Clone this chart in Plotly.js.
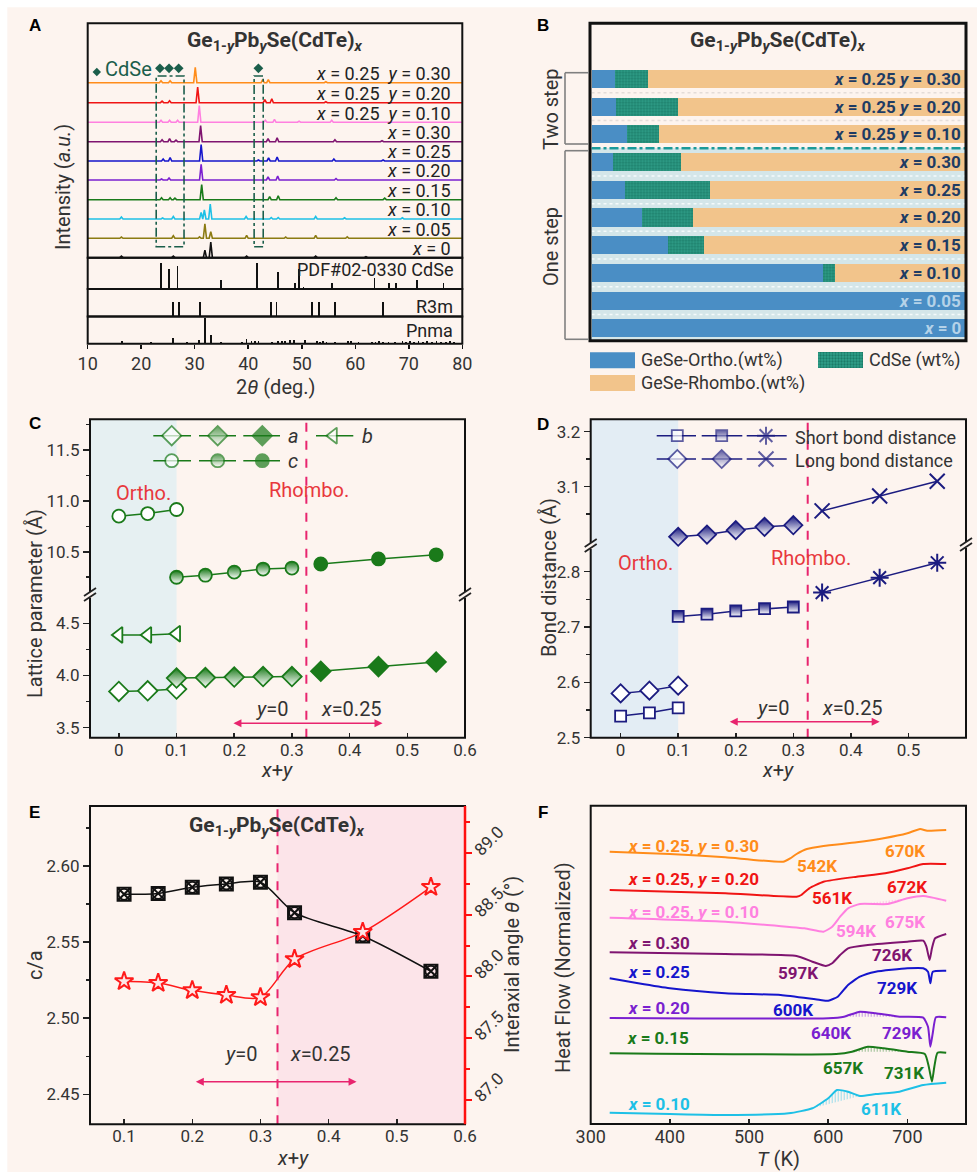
<!DOCTYPE html>
<html><head><meta charset="utf-8">
<script src="https://cdn.plot.ly/plotly-3.0.1.min.js"></script>
<style>html,body{margin:0;padding:0;background:#fff;}#chart{width:977px;height:1172px;}</style>
</head><body><div id="chart"></div>
<script>
// ================= DATA =================
// Panel A : XRD patterns (peak position 2theta, relative height)
const XRD_LABELS = ['<i>x</i> = 0','<i>x</i> = 0.05','<i>x</i> = 0.10','<i>x</i> = 0.15','<i>x</i> = 0.20','<i>x</i> = 0.25','<i>x</i> = 0.30',
  '<i>x</i> = 0.25\u00a0\u00a0<i>y</i> = 0.10','<i>x</i> = 0.25\u00a0\u00a0<i>y</i> = 0.20','<i>x</i> = 0.25\u00a0\u00a0<i>y</i> = 0.30'];
const XRD_COLORS = ['#111111','#8c7b12','#1ec0e6','#1a7a1a','#7a1fd0','#1515cc','#7f1470','#ff80e0','#f01414','#ff8c1a'];
const XRD_OFFSETS = [0,19.4,38.7,58,77.7,96.7,116,135.4,155,175];
const XRD_PEAKS = [
  [[16.3,1.5],[26.0,1.5],[31.9,7.5],[33.0,15.5],[39.7,1.5],[52.6,1.5],[62.0,1]],
  [[16.3,1.2],[26.0,2.5],[30.9,1.5],[31.9,14.5],[33.0,6.5],[39.7,3],[47.0,1.2],[52.6,3],[58.5,1.5]],
  [[16.3,2],[24.0,1],[26.0,2.5],[31.2,6.5],[31.8,9],[32.9,15],[39.6,2.5],[44.3,1.5],[45.6,1.5],[52.6,2.5],[58.0,1.2],[68.8,1.2]],
  [[23.8,2],[25.4,2],[26.3,1.5],[31.3,15],[44.0,3],[45.6,4],[56.4,2],[65.5,1.5]],
  [[23.8,1],[25.2,2],[31.2,15.7],[43.7,3],[45.5,4],[56.4,1.5]],
  [[24.1,2],[25.4,3.5],[31.2,16.3],[41.9,1],[43.8,3],[45.4,4],[56.0,2],[65.2,1]],
  [[23.9,2],[25.3,3],[26.5,1.5],[31.1,16],[43.7,3],[45.4,4],[56.2,2],[65.0,1]],
  [[23.7,2],[25.3,2],[26.8,2],[30.85,16.7],[43.2,2],[44.9,3],[49.5,1],[55.6,2]],
  [[23.9,1.5],[25.3,2],[30.55,15.7],[43.1,3],[44.4,4],[54.5,1]],
  [[23.7,2],[25.4,2],[30.1,15.3],[42.7,3],[43.75,3],[54.5,1]]
];
const CDSE_POS = [23.7,25.2,26.8,34.9,41.6,45.5,48.7,49.5,50.3,55.6,63.6,66.3,67.6,71.6,76.5];
const CDSE_INT = [25.7,20,22.7,9,25.7,17.3,6,20.3,2,6,11,6,6,9,6];
const R3M_POS = [25.9,27.1,31.0,44.2,45.3,51.9,53.2,56.2,65.2];
const R3M_INT = [14.5,14.5,14.5,14.5,14.5,14.5,14.5,14.5,14.5];
const PNMA_POS = [16.4,21.8,26.0,28.5,30.8,31.9,33.0,34.9,38.8,39.7,40.6,41.2,41.9,44.4,45.6,46.3,46.9,47.8,48.6,50.6,52.8,53.4,54.0,54.6,56.2,58.6,59.2,60.6,63.1,63.8,64.5,65.2,66.2,67.4,68.8,69.5,70.2,71.0,71.8,72.6,73.4,74.3,75.2,76.0,76.9,77.7,78.5];
const PNMA_INT = [3,2,6,2,4,26,9,2,2,5,3,3,3,2,3,3,3,4,4,4,3,2,3,2,2,3,3,2,2,2,3,2,2,2,3,2,3,2,3,2,3,2,3,2,2,3,2];
const CDSE_MARK_POS = [23.5,25.2,27.0,41.9];

// Panel B : phase fractions (wt%)
const PHASE_ROWS = ['x=0.25 y=0.30','x=0.25 y=0.20','x=0.25 y=0.10','x=0.30','x=0.25','x=0.20','x=0.15','x=0.10','x=0.05','x=0'];
const PHASE_LABELS = ['<i>x</i> = 0.25 <i>y</i> = 0.30','<i>x</i> = 0.25 <i>y</i> = 0.20','<i>x</i> = 0.25 <i>y</i> = 0.10','<i>x</i> = 0.30','<i>x</i> = 0.25','<i>x</i> = 0.20','<i>x</i> = 0.15','<i>x</i> = 0.10','<i>x</i> = 0.05','<i>x</i> = 0'];
const ORTHO_WT  = [6.2,6.5,9.4,5.8,9.1,13.5,20.5,62.1,100,100];
const CDSE_WT   = [8.9,16.7,8.6,18.2,22.5,13.8,9.5,3.2,0,0];
const RHOMBO_WT = [84.9,76.8,82.0,76.0,68.4,72.7,70.0,34.7,0,0];

// Panel C : lattice parameters
const XC_ORTHO = [0,0.05,0.1], XC_Y0 = [0.1,0.15,0.2,0.25,0.3], XC_X25 = [0.35,0.45,0.55];
const A_ORTHO = [3.847,3.853,3.87], A_Y0 = [3.975,3.98,3.985,3.99,3.99], A_X25 = [4.04,4.085,4.13];
const B_ORTHO = [4.388,4.388,4.40];
const C_ORTHO = [10.85,10.875,10.915], C_Y0 = [10.25,10.27,10.30,10.33,10.34], C_X25 = [10.38,10.43,10.47];

// Panel D : bond distances
const XD_ORTHO = [0,0.05,0.1], XD_Y0 = [0.1,0.15,0.2,0.25,0.3], XD_X25 = [0.35,0.45,0.55];
const SHORT_ORTHO = [2.539,2.545,2.554], SHORT_Y0 = [2.719,2.723,2.729,2.733,2.736], SHORT_X25 = [2.762,2.789,2.816];
const LONG_ORTHO = [2.580,2.585,2.594], LONG_Y0 = [3.009,3.013,3.021,3.027,3.030], LONG_X25 = [3.056,3.083,3.110];

// Panel E : c/a and interaxial angle
const XE = [0.1,0.15,0.2,0.25,0.3,0.35,0.45,0.55];
const C_OVER_A = [2.5814,2.5820,2.5860,2.5882,2.5893,2.5693,2.5540,2.5308];
const ANGLE = [87.96,87.946,87.887,87.849,87.830,88.14,88.36,88.725];
const PHASE_BOUNDARY = 0.325;

// Panel F : DSC curves (T in K, heat flow normalized / offset)
const DSC_NAMES = ['x=0.10','x=0.15','x=0.20','x=0.25','x=0.30','x=0.25,y=0.10','x=0.25,y=0.20','x=0.25,y=0.30'];
const DSC_COLORS = ['#1ec0e6','#1a7a1a','#7a1fd0','#1515cc','#7f1470','#ff80e0','#f01414','#ff8c1a'];
const DSC_T = [
  [324,400,470,550,580,600,611,625,640,660,690,720,749],
  [324,610,630,650,670,700,722,727,731,734,738,749],
  [324,600,620,640,660,690,720,726,729,732,736,749],
  [324,360,400,470,540,590,600,612,625,640,660,700,720,726,729,732,749],
  [324,470,560,580,597,605,615,625,650,700,720,724,728,731,735,749],
  [324,470,570,594,605,615,625,640,675,700,720,749],
  [324,470,560,566,576,594,636,672,700,720,749],
  [324,400,470,543,552,560,573,594,636,670,700,716,725,749]
];
const DSC_HF = [
  [11.3,10,9,10.7,15.7,25.7,34,32.3,28,30,32.3,39,41.3],
  [70.7,70,72.3,77.3,75.7,72.3,70,57.3,42.3,57.3,71.3,71.3],
  [106,105.7,107.3,112.3,110.7,107.3,106.3,97.3,77.3,90.7,106.7,106.7],
  [145.7,140.7,135.7,130.7,129,124,123.3,127.3,139,147.3,152.3,155.7,155.7,152.3,140.7,152.3,153.3],
  [171.7,170,168,162.3,158,160.7,169,175.7,179,182.3,183.3,177.3,164,175.7,185.7,190],
  [206.3,202.3,195.7,192.3,197.3,207.3,215.7,220,220,225.7,228,223.3],
  [234,230.7,227.3,229,235.7,242.3,247.3,250.7,255.7,260,260],
  [272.3,270,266.7,262.3,265.7,270,275,278,281.7,285.7,290.7,295,293.3,294]
];
// hatched transition areas: [curve index, T start, T end]
const DSC_HATCH = [[0,580,640],[1,630,700],[2,620,690],[5,640,700],[7,636,700]];

// ================= DRAWING =================
const W=977,H=1172;
const px=v=>v/W, py=v=>1-v/H;
const BG='#fdf4ef';
const FONT='Roboto, "Noto Sans", sans-serif';
const TXT='#2b2b2b';
const traces=[], shapes=[], annotations=[];
function F(size,color,extra){return Object.assign({family:FONT,size:size,color:color||TXT},extra||{});}
function ann(x,y,text,o){annotations.push(Object.assign({xref:'paper',yref:'paper',x:px(x),y:py(y),text:text,showarrow:false,font:F(17),xanchor:'center',yanchor:'middle'},o||{}));}
function rect(x0,y0,x1,y1,o){shapes.push(Object.assign({type:'rect',xref:'paper',yref:'paper',x0:px(x0),x1:px(x1),y0:py(y0),y1:py(y1),line:{width:0}},o||{}));}
function seg(x0,y0,x1,y1,o){shapes.push(Object.assign({type:'line',xref:'paper',yref:'paper',x0:px(x0),x1:px(x1),y0:py(y0),y1:py(y1)},o||{}));}
const TITLE='<b>Ge<sub>1-<i>y</i></sub>Pb<sub><i>y</i></sub>Se(CdTe)<sub><i>x</i></sub></b>';
const tickF=F(17,'#333');
const TTL=20;

// page edge strips
rect(0,0,977,7.3,{fillcolor:'#ffffff',layer:'below'});
rect(0,0,7.3,1172,{fillcolor:'#ffffff',layer:'below'});

const layout={width:W,height:H,margin:{l:0,r:0,t:0,b:0},paper_bgcolor:BG,plot_bgcolor:'rgba(0,0,0,0)',
  showlegend:false,barmode:'stack',font:{family:FONT,color:TXT}};

// ---------- Panel A ----------
const AX=[px(87.7),px(462.3)];
layout.xaxis={domain:AX,range:[10,80],anchor:'y',visible:false};
layout.yaxis={domain:[py(257.7),py(23.3)],range:[0,234.4],anchor:'x',visible:false};
layout.xaxis2={domain:AX,range:[10,80],anchor:'y2',visible:false};
layout.yaxis2={domain:[py(289),py(257.7)],range:[0,31.3],anchor:'x2',visible:false};
layout.xaxis3={domain:AX,range:[10,80],anchor:'y3',visible:false};
layout.yaxis3={domain:[py(316.5),py(289)],range:[0,27.5],anchor:'x3',visible:false};
layout.xaxis4={domain:AX,range:[10,80],anchor:'y4',showline:false,showgrid:false,zeroline:false,
  tickvals:[10,20,30,40,50,60,70,80],ticks:'outside',ticklen:4,tickwidth:1.5,tickcolor:'#111',tickfont:F(18,'#333')};
layout.yaxis4={domain:[py(343.7),py(316.5)],range:[0,27.2],anchor:'x4',visible:false};

XRD_PEAKS.forEach((peaks,i)=>{
  const xs=[10], ys=[XRD_OFFSETS[i]];
  peaks.slice().sort((a,b)=>a[0]-b[0]).forEach(([p,h])=>{xs.push(p-0.3,p,p+0.3);ys.push(XRD_OFFSETS[i],XRD_OFFSETS[i]+h,XRD_OFFSETS[i]);});
  xs.push(80); ys.push(XRD_OFFSETS[i]);
  traces.push({type:'scatter',mode:'lines',x:xs,y:ys,xaxis:'x',yaxis:'y',line:{color:XRD_COLORS[i],width:1.6},hoverinfo:'skip'});
  annotations.push({xref:'x',yref:'y',x:78.3,y:XRD_OFFSETS[i]+9,text:XRD_LABELS[i],showarrow:false,xanchor:'right',yanchor:'middle',font:F(18,'#222')});
});
traces.push({type:'bar',x:CDSE_POS,y:CDSE_INT,width:0.32,xaxis:'x2',yaxis:'y2',marker:{color:'#111'}});
traces.push({type:'bar',x:R3M_POS,y:R3M_INT,width:0.32,xaxis:'x3',yaxis:'y3',marker:{color:'#111'}});
traces.push({type:'bar',x:PNMA_POS,y:PNMA_INT,width:0.32,xaxis:'x4',yaxis:'y4',marker:{color:'#111'}});
traces.push({type:'scatter',mode:'markers',x:CDSE_MARK_POS,y:CDSE_MARK_POS.map(()=>189.4),xaxis:'x',yaxis:'y',
  marker:{symbol:'diamond',size:7.5,color:'#1b5e4b'},cliponaxis:false});
traces.push({type:'scatter',mode:'markers',x:[11.7],y:[185.7],xaxis:'x',yaxis:'y',marker:{symbol:'diamond',size:6.5,color:'#1b5e4b'},cliponaxis:false});
ann(128,68.5,'CdSe',{font:F(20,'#1b5e4b')});
[[22.8,28.0],[41.1,42.8]].forEach(b=>shapes.push({type:'rect',xref:'x',yref:'y',x0:b[0],x1:b[1],y0:11,y1:181.7,line:{color:'#1b5e4b',width:1.6,dash:'dashdot'}}));
[[23.3,257.7],[257.7,289],[289,316.5],[316.5,343.7]].forEach(r=>rect(87.7,r[0],462.3,r[1],{line:{color:'#111',width:2}}));
ann(455,269,'PDF#02-0330 CdSe',{xanchor:'right',font:F(18,'#222')});
ann(455,306.5,'R3m',{xanchor:'right',font:F(18,'#222')});
ann(455,330.5,'Pnma',{xanchor:'right',font:F(18,'#222')});
ann(275,42,TITLE,{font:F(21,'#333')});
ann(63,187,'Intensity (<i>a.u.</i>)',{textangle:-90,font:F(TTL,'#333')});
ann(275,387,'2<i>θ</i> (deg.)',{font:F(TTL,'#333')});

// ---------- Panel B ----------
layout.xaxis5={domain:[px(591.5),px(965)],range:[0,100],anchor:'y5',visible:false};
layout.yaxis5={domain:[py(340.7),py(23.3)],type:'category',categoryorder:'array',categoryarray:PHASE_ROWS,range:[9.448,-2.011],anchor:'x5',visible:false};
rect(591,148,965,340.7,{fillcolor:'#d4e6e9',layer:'below'});
for(let i=0;i<PHASE_ROWS.length-1;i++){
  if(i===2) continue;
  shapes.push({type:'line',xref:'x5',yref:'y5',x0:0,x1:100,y0:i+0.5,y1:i+0.5,layer:'below',line:{color:i<2?'#e4dcd8':'#f4fafb',width:1.5,dash:'dot'}});
}
traces.push({type:'bar',orientation:'h',y:PHASE_ROWS,x:ORTHO_WT,width:0.65,xaxis:'x5',yaxis:'y5',marker:{color:'#4a8ec5'}});
traces.push({type:'bar',orientation:'h',y:PHASE_ROWS,x:CDSE_WT,width:0.65,xaxis:'x5',yaxis:'y5',
  marker:{color:'#2fa08a',pattern:{shape:'.',fillmode:'replace',bgcolor:'#2fa08a',fgcolor:'#1c7b68',size:3,solidity:0.45}}});
traces.push({type:'bar',orientation:'h',y:PHASE_ROWS,x:RHOMBO_WT,width:0.65,xaxis:'x5',yaxis:'y5',marker:{color:'#f2c48b'}});
shapes.push({type:'line',xref:'x5',yref:'y5',x0:0,x1:100,y0:2.5,y1:2.5,line:{color:'#1a9a9a',width:2.5,dash:'dashdot'}});
PHASE_ROWS.forEach((r,i)=>{
  annotations.push({xref:'x5',yref:'y5',x:99.5,y:r,text:'<b>'+PHASE_LABELS[i]+'</b>',showarrow:false,xanchor:'right',yanchor:'middle',
    font:F(17,i>=8?'#b4d2e8':'#1e3c64')});
});
rect(590,23.3,966,340.7,{line:{color:'#111',width:3}});
ann(778,41,TITLE,{font:F(21,'#333')});
const BR={color:'#808080',width:1.6};
seg(565,72.7,565,144,{line:BR}); seg(565,72.7,589,72.7,{line:BR}); seg(565,144,589,144,{line:BR});
seg(565,150.7,565,339.3,{line:BR}); seg(565,150.7,589,150.7,{line:BR}); seg(565,339.3,589,339.3,{line:BR});
ann(551,110,'Two step',{textangle:-90,font:F(TTL,'#333')});
ann(551,247,'One step',{textangle:-90,font:F(TTL,'#333')});

// page-coordinate axes for legend glyphs
layout.xaxis12={domain:[0,1],range:[0,W],anchor:'y15',visible:false,fixedrange:true};
layout.yaxis15={domain:[0,1],range:[H,0],anchor:'x12',visible:false,fixedrange:true};
rect(590,352.3,635,368.3,{fillcolor:'#4a8ec5'});
rect(590,375,635,391,{fillcolor:'#f2c48b'});
traces.push({type:'bar',orientation:'h',y:[360.3],x:[45],base:[818],width:[16],xaxis:'x12',yaxis:'y15',
  marker:{color:'#2fa08a',pattern:{shape:'.',fillmode:'replace',bgcolor:'#2fa08a',fgcolor:'#1c7b68',size:3,solidity:0.45}}});
ann(639,360.3,'GeSe-Ortho.(wt%)',{xanchor:'left',font:F(18,'#333')});
ann(867,360.3,'CdSe (wt%)',{xanchor:'left',font:F(18,'#333')});
ann(639,383,'GeSe-Rhombo.(wt%)',{xanchor:'left',font:F(18,'#333')});

// ---------- common helpers for C/D/E ----------
function yAx(dom,range,tv,tt,minor,extra){
  return Object.assign({domain:dom,range:range,tickvals:tv,ticktext:tt,ticks:'outside',ticklen:6,tickwidth:1.5,tickcolor:'#222',
    showline:false,showgrid:false,zeroline:false,tickfont:tickF,
    minor:{tickvals:minor,ticks:'outside',ticklen:3.5,tickwidth:1.5,tickcolor:'#222',showgrid:false}},extra||{});
}
function xAx(dom,range,tv,tt,anchor){
  return {domain:dom,range:range,tickvals:tv,ticktext:tt,anchor:anchor,ticks:'inside',ticklen:5,tickwidth:1.5,tickcolor:'#222',
    showline:false,showgrid:false,zeroline:false,tickfont:tickF};
}
const XT=[0,0.1,0.2,0.3,0.4,0.5,0.6], XTT=['0','0.1','0.2','0.3','0.4','0.5','0.6'];
function mk(sym,size,col,kind){
  const m={symbol:sym,size:size,line:{color:col,width:1.8}};
  if(kind==='open') m.color='#ffffff';
  else if(kind==='half'){m.color=col;m.gradient={type:'vertical',color:'#ffffff'};}
  else m.color=col;
  return m;
}
function series(x,y,xa,ya,col,marker,extra){
  traces.push(Object.assign({type:'scatter',mode:'lines+markers',x:x,y:y,xaxis:xa,yaxis:ya,line:{color:col,width:1.5},marker:marker,cliponaxis:false},extra||{}));
}
function breakMark(x,y){
  rect(x-3,y-3,x+3,y+3,{fillcolor:BG});
  seg(x-6,y+1,x+6,y-7,{line:{color:'#222',width:1.8}});
  seg(x-6,y+6,x+6,y-2,{line:{color:'#222',width:1.8}});
}
const MAG='#e8246e', RED_TXT='#e8383d';
function phaseDecor(xa,yTop,yBot,arrowY,headX,tailX,xLblY,xLblX){
  shapes.push({type:'line',xref:xa,yref:'paper',x0:PHASE_BOUNDARY,x1:PHASE_BOUNDARY,y0:py(yBot),y1:py(yTop),line:{color:MAG,width:2,dash:'dash'}});
  annotations.push({xref:xa,yref:'paper',x:headX,y:py(arrowY),ax:tailX,ay:0,axref:xa,ayref:'pixel',text:'',showarrow:true,
    arrowside:'end+start',arrowhead:2,arrowsize:1,arrowwidth:1.6,arrowcolor:MAG});
  annotations.push({xref:xa,yref:'paper',x:xLblY,y:py(arrowY-14),text:'<i>y</i>=0',showarrow:false,font:F(TTL,'#333')});
  annotations.push({xref:xa,yref:'paper',x:xLblX,y:py(arrowY-14),text:'<i>x</i>=0.25',showarrow:false,font:F(TTL,'#333')});
}

// ---------- Panel C ----------
const GC='#1a7a1a';
layout.xaxis6=xAx([px(90),px(465)],[-0.05,0.6],XT,XTT,'y7');
layout.yaxis6=yAx([py(595),py(419.3)],[10.0755,11.801],[10.5,11,11.5],['10.5','11.0','11.5'],[10.25,10.75,11.25,11.75],{anchor:'x6'});
layout.yaxis7=yAx([py(737.7),py(595)],[3.404,4.771],[3.5,4,4.5],['3.5','4.0','4.5'],[3.75,4.25],{anchor:'x6'});
shapes.push({type:'rect',xref:'x6',yref:'paper',x0:-0.05,x1:0.1,y0:py(737.7),y1:py(419.3),fillcolor:'#e6f0f2',line:{width:0},layer:'below'});
series(XC_ORTHO,C_ORTHO,'x6','y6',GC,mk('circle',13,GC,'open'));
series(XC_Y0,C_Y0,'x6','y6',GC,mk('circle',13,GC,'half'));
series(XC_X25,C_X25,'x6','y6',GC,mk('circle',13,GC,'full'));
series(XC_ORTHO,B_ORTHO,'x6','y7',GC,mk('triangle-left',14,GC,'open'));
series(XC_ORTHO,A_ORTHO,'x6','y7',GC,mk('diamond',15,GC,'open'));
series(XC_Y0,A_Y0,'x6','y7',GC,mk('diamond',15,GC,'half'));
series(XC_X25,A_X25,'x6','y7',GC,mk('diamond',15,GC,'full'));
phaseDecor('x6',419.3,737.7,723.3,0.457,0.196,0.265,0.403);
rect(90,419.3,465,737.7,{line:{color:'#111',width:2}});
breakMark(90,595); breakMark(465,595);
ann(143,493,'Ortho.',{font:F(TTL,RED_TXT)});
ann(309,490,'Rhombo.',{font:F(TTL,RED_TXT)});
ann(35,604,'Lattice parameter (Å)',{textangle:-90,font:F(TTL,'#333')});
ann(277,770,'<i>x</i>+<i>y</i>',{font:F(TTL,'#333')});
function legRow(xs,y,col,markers){
  xs.forEach((s,i)=>{
    traces.push({type:'scatter',mode:'lines+markers',x:[s[0],s[1],s[2]],y:[y,y,y],xaxis:'x12',yaxis:'y15',
      line:{color:col,width:1.5},marker:Object.assign({},markers[i],{size:[0,markers[i].size,0]}),cliponaxis:false});
  });
}
const CL=[[153.3,171.7,191],[199,217.7,236],[243.3,262.3,280]];
legRow(CL,435.7,GC,[mk('diamond',15,GC,'open'),mk('diamond',15,GC,'half'),mk('diamond',15,GC,'full')]);
legRow([[316,333.3,353.3]],435.7,GC,[mk('triangle-left',14,GC,'open')]);
legRow(CL,460.7,GC,[mk('circle',13,GC,'open'),mk('circle',13,GC,'half'),mk('circle',13,GC,'full')]);
ann(293,435.7,'<i>a</i>',{xanchor:'center',font:F(TTL,'#333')});
ann(367,435.7,'<i>b</i>',{xanchor:'center',font:F(TTL,'#333')});
ann(293,460.7,'<i>c</i>',{xanchor:'center',font:F(TTL,'#333')});

// ---------- Panel D ----------
const NV='#1c1c80';
layout.xaxis8=xAx([px(590.7),px(966)],[-0.052,0.6],XT,XTT,'y10');
layout.yaxis9=yAx([py(545),py(419.3)],[2.994,3.2225],[3.1,3.2],['3.1','3.2'],[3.05,3.15],{anchor:'x8'});
layout.yaxis10=yAx([py(737.7),py(545)],[2.5,2.848],[2.5,2.6,2.7,2.8],['2.5','2.6','2.7','2.8'],[2.55,2.65,2.75],{anchor:'x8'});
shapes.push({type:'rect',xref:'x8',yref:'paper',x0:-0.052,x1:0.1,y0:py(737.7),y1:py(419.3),fillcolor:'#e3edf4',line:{width:0},layer:'below'});
series(XD_ORTHO,SHORT_ORTHO,'x8','y10',NV,mk('square',11,NV,'open'));
series(XD_ORTHO,LONG_ORTHO,'x8','y10',NV,mk('diamond',14,NV,'open'));
series(XD_Y0,SHORT_Y0,'x8','y10',NV,mk('square',11,NV,'half'));
series(XD_Y0,LONG_Y0,'x8','y9',NV,mk('diamond',14,NV,'half'));
series(XD_X25,SHORT_X25,'x8','y10',NV,{symbol:'asterisk-open',size:15,line:{color:NV,width:2}});
series(XD_X25,LONG_X25,'x8','y9',NV,{symbol:'x-thin-open',size:15,line:{color:NV,width:2}});
phaseDecor('x8',419.3,737.7,721.7,0.45,0.187,0.264,0.403);
rect(590.7,419.3,966,737.7,{line:{color:'#111',width:2}});
breakMark(590.7,546); breakMark(966,545);
ann(645,563,'Ortho.',{font:F(TTL,RED_TXT)});
ann(811,557.7,'Rhombo.',{font:F(TTL,RED_TXT)});
ann(549,578,'Bond distance (Å)',{textangle:-90,font:F(TTL,'#333')});
ann(778,770,'<i>x</i>+<i>y</i>',{font:F(TTL,'#333')});
const DL=[[656.7,677.3,696],[701.7,721.7,742.3],[746.7,766,786.7]];
legRow(DL,435.7,NV,[mk('square',11,NV,'open'),mk('square',11,NV,'half'),{symbol:'asterisk-open',size:15,line:{color:NV,width:2}}]);
legRow(DL,459,NV,[mk('diamond',14,NV,'open'),mk('diamond',14,NV,'half'),{symbol:'x-thin-open',size:15,line:{color:NV,width:2}}]);
ann(793,437,'Short bond distance',{xanchor:'left',font:F(18,'#333')});
ann(793,460,'Long bond distance',{xanchor:'left',font:F(18,'#333')});

// ---------- Panel E ----------
layout.xaxis10=xAx([px(90),px(465)],[0.05,0.6],[0.1,0.2,0.3,0.4,0.5,0.6],['0.1','0.2','0.3','0.4','0.5','0.6'],'y12');
layout.yaxis12=yAx([py(1124.3),py(806)],[2.4303,2.6394],[2.45,2.5,2.55,2.6],['2.45','2.50','2.55','2.60'],[2.475,2.525,2.575,2.625],{anchor:'x10'});
layout.yaxis13={overlaying:'y12',side:'right',anchor:'x10',range:[86.80,89.383],tickvals:[87,87.5,88,88.5,89],ticktext:['87.0','87.5','88.0','88.5','89.0'],
  tickangle:-45,ticks:'outside',ticklen:6,tickwidth:2,tickcolor:'#ff1010',showline:false,showgrid:false,zeroline:false,tickfont:tickF,
  minor:{tickvals:[87.25,87.75,88.25,88.75,89.25],ticks:'outside',ticklen:4,tickwidth:2,tickcolor:'#ff1010',showgrid:false}};
shapes.push({type:'rect',xref:'x10',yref:'paper',x0:PHASE_BOUNDARY,x1:0.6,y0:py(1124.3),y1:py(806),fillcolor:'#fce4e9',line:{width:0},layer:'below'});
traces.push({type:'scatter',mode:'lines+markers',x:XE,y:C_OVER_A,xaxis:'x10',yaxis:'y12',line:{color:'#111',width:1.5,shape:'spline',smoothing:0.8},
  marker:{symbol:'square-x-open',size:13,color:'#111',line:{color:'#111',width:2}},cliponaxis:false});
traces.push({type:'scatter',mode:'markers',x:XE,y:C_OVER_A,xaxis:'x10',yaxis:'y12',marker:{symbol:'circle-open',size:11,color:'#111',line:{color:'#111',width:1.8}},cliponaxis:false});
traces.push({type:'scatter',mode:'lines+markers',x:XE,y:ANGLE,xaxis:'x10',yaxis:'y13',line:{color:'#ff1a1a',width:1.5,shape:'spline',smoothing:0.8},
  marker:{symbol:'star',size:14,color:'#fde6e6',line:{color:'#ff1a1a',width:2}},cliponaxis:false});
phaseDecor('x10',806,1124.3,1081.7,0.441,0.203,0.271,0.388);
rect(90,806,465,1124.3,{line:{color:'#111',width:2}});
seg(465,806,465,1124.3,{line:{color:'#ff1010',width:2.5}});
ann(277,826.7,TITLE,{font:F(21,'#333')});
ann(35,965,'c/a',{textangle:-90,font:F(TTL,'#333')});
ann(512,965,'Interaxial angle <i>θ</i> (°)',{textangle:-90,font:F(TTL,'#333')});
ann(293,1158,'<i>x</i>+<i>y</i>',{font:F(TTL,'#333')});

// ---------- Panel F ----------
layout.xaxis11={domain:[px(590.7),px(966)],range:[300,774],anchor:'y14',tickvals:[300,400,500,600,700],ticks:'inside',ticklen:5,tickwidth:1.5,tickcolor:'#222',
  showline:false,showgrid:false,zeroline:false,tickfont:F(18,'#333')};
layout.yaxis14={domain:[py(1124),py(805.7)],range:[0,318.3],anchor:'x11',visible:false};
DSC_HATCH.forEach(([i,t0,t1])=>{
  const xs=[],ys=[];
  DSC_T[i].forEach((t,k)=>{if(t>=t0&&t<=t1){xs.push(t);ys.push(DSC_HF[i][k]);}});
  xs.push(xs[0]); ys.push(ys[0]);
  traces.push({type:'scatter',mode:'none',x:xs,y:ys,xaxis:'x11',yaxis:'y14',fill:'toself',fillcolor:'rgba(0,0,0,0)',
    fillpattern:{shape:'|',fgcolor:DSC_COLORS[i],size:3,solidity:0.3,fgopacity:0.5},hoverinfo:'skip'});
});
DSC_T.forEach((t,i)=>{
  traces.push({type:'scatter',mode:'lines',x:t,y:DSC_HF[i],xaxis:'x11',yaxis:'y14',line:{color:DSC_COLORS[i],width:2,shape:'spline',smoothing:0.5},hoverinfo:'skip'});
});
rect(590.7,805.7,966,1124,{line:{color:'#111',width:2}});
const FL=[
  ['<i>x</i> = 0.25, <i>y</i> = 0.30','#ff8c1a',626,845.7,'left'],['542K','#ff8c1a',816.7,865.7,'center'],['670K','#ff8c1a',905,850.7,'center'],
  ['<i>x</i> = 0.25, <i>y</i> = 0.20','#f01414',626,879,'left'],['561K','#f01414',832.3,898.3,'center'],['672K','#f01414',906.7,887.3,'center'],
  ['<i>x</i> = 0.25, <i>y</i> = 0.10','#ff80e0',626,911.7,'left'],['594K','#ff80e0',856,931,'center'],['675K','#ff80e0',905,922.3,'center'],
  ['<i>x</i> = 0.30','#7f1470',626,942.7,'left'],['597K','#7f1470',798.3,973.3,'center'],['726K','#7f1470',891.7,955,'center'],
  ['<i>x</i> = 0.25','#1515cc',626,971.7,'left'],['729K','#1515cc',897.3,988.3,'center'],['600K','#1515cc',792.7,1010,'center'],
  ['<i>x</i> = 0.20','#7a1fd0',626,1008.3,'left'],['640K','#7a1fd0',830.7,1032.7,'center'],['729K','#7a1fd0',901.7,1032.7,'center'],
  ['<i>x</i> = 0.15','#1a7a1a',625,1038.3,'left'],['657K','#1a7a1a',843.3,1068.3,'center'],['731K','#1a7a1a',904,1072.7,'center'],
  ['<i>x</i> = 0.10','#1ec0e6',626,1104,'left'],['611K','#1ec0e6',880.7,1109,'center']
];
FL.forEach(l=>ann(l[2],l[3],'<b>'+l[0]+'</b>',{xanchor:l[4],font:F(17,l[1])}));
ann(563,968,'Heat Flow (Normalized)',{textangle:-90,font:F(TTL,'#333')});
ann(778,1159,'<i>T</i> (K)',{font:F(TTL,'#333')});

[['A',35,25],['B',543,25],['C',35,423],['D',543,424],['E',34,812],['F',543,812]].forEach(l=>
  ann(l[1],l[2],'<b>'+l[0]+'</b>',{font:{family:'Liberation Sans, Arial, sans-serif',size:17,color:'#000'}}));

layout.shapes=shapes; layout.annotations=annotations;
Plotly.newPlot('chart',traces,layout,{staticPlot:true});
</script></body></html>
